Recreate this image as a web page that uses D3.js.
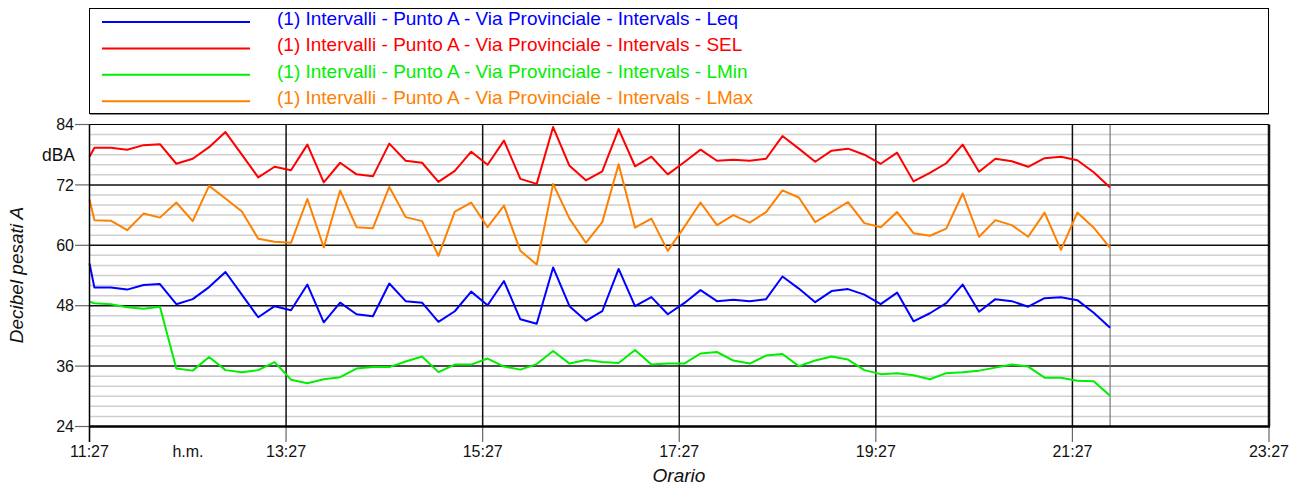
<!DOCTYPE html>
<html>
<head>
<meta charset="utf-8">
<script src="https://cdn.jsdelivr.net/npm/d3@7/dist/d3.min.js"></script>
<style>
  body { margin: 0; background: #fff; }
  svg { display: block; font-family: "Liberation Sans", Arial, sans-serif; }
</style>
</head>
<body>
<svg id="chart" width="1300" height="487"></svg>
<script>
// interval start times (h:m)
const times = [
  "11:27","11:30","11:40","11:50","12:00","12:10","12:20","12:30","12:40","12:50",
  "13:00","13:10","13:20","13:30","13:40","13:50","14:00","14:10","14:20","14:30",
  "14:40","14:50","15:00","15:10","15:20","15:30","15:40","15:50","16:00","16:10",
  "16:20","16:30","16:40","16:50","17:00","17:10","17:20","17:30","17:40","17:50",
  "18:00","18:10","18:20","18:30","18:40","18:50","19:00","19:10","19:20","19:30",
  "19:40","19:50","20:00","20:10","20:20","20:30","20:40","20:50","21:00","21:10",
  "21:20","21:30","21:40","21:50"
];

const leq = [
  56.4,51.6,51.6,51.2,52.1,52.3,48.3,49.3,51.7,54.7,
  50.2,45.7,47.9,47.1,52.2,44.7,48.6,46.3,45.9,52.4,
  48.9,48.6,44.8,46.9,50.8,48.1,52.9,45.3,44.4,55.6,
  47.9,45.0,46.9,55.3,47.9,49.7,46.3,48.5,51.1,48.9,
  49.2,48.9,49.3,53.8,51.4,48.7,50.9,51.3,50.2,48.3,
  50.6,44.9,46.5,48.5,52.2,46.8,49.3,48.9,47.8,49.5,
  49.7,49.1,46.6,43.6
];

const sel = [
  77.6,79.4,79.4,79.0,79.9,80.1,76.2,77.2,79.5,82.5,
  78.0,73.5,75.6,74.9,80.0,72.5,76.4,74.1,73.7,80.2,
  76.8,76.4,72.6,74.8,78.6,76.0,80.8,73.2,72.2,83.5,
  75.8,72.9,74.7,83.1,75.7,77.6,74.1,76.5,79.0,76.8,
  77.0,76.8,77.2,81.7,79.2,76.6,78.8,79.2,78.0,76.2,
  78.4,72.7,74.4,76.3,80.0,74.6,77.2,76.7,75.6,77.3,
  77.6,76.9,74.5,71.5
];

const lmin = [
  48.8,48.5,48.3,47.7,47.4,47.8,35.5,35.1,37.8,35.2,
  34.8,35.2,36.8,33.3,32.6,33.4,33.8,35.5,35.8,35.8,
  36.9,37.9,34.8,36.3,36.3,37.5,35.9,35.3,36.4,39.0,
  36.5,37.2,36.8,36.6,39.2,36.3,36.5,36.5,38.5,38.8,
  37.1,36.5,38.1,38.4,36.0,37.1,37.9,37.3,35.2,34.4,
  34.6,34.2,33.4,34.6,34.8,35.1,35.7,36.3,35.9,33.7,
  33.7,33.1,33.0,30.1
];

const lmax = [
  69.1,65.0,64.9,63.0,66.3,65.5,68.5,64.8,71.8,69.3,
  66.7,61.3,60.7,60.5,69.2,59.6,70.9,63.6,63.4,71.6,
  65.6,64.8,57.9,66.7,68.5,63.6,67.9,58.9,56.2,72.2,
  65.3,60.5,64.6,76.1,63.5,65.3,58.9,63.6,68.5,64.0,
  66.0,64.5,66.6,70.9,69.5,64.6,66.6,68.6,64.4,63.6,
  66.6,62.4,61.9,63.3,70.3,61.7,65.0,64.0,61.7,66.5,
  59.1,66.5,63.5,59.5
];

const seriesNames = [
  "(1) Intervalli - Punto A - Via Provinciale - Intervals - Leq",
  "(1) Intervalli - Punto A - Via Provinciale - Intervals - SEL",
  "(1) Intervalli - Punto A - Via Provinciale - Intervals - LMin",
  "(1) Intervalli - Punto A - Via Provinciale - Intervals - LMax"
];
const seriesColors = ["#0000ff", "#ff0000", "#00ee00", "#ff8000"];

const xTickLabels = ["11:27", "13:27", "15:27", "17:27", "19:27", "21:27", "23:27"];
const yTicks = [24, 36, 48, 60, 72, 84];
const dataEnd = "21:50";

const parseTime = d3.timeParse("%H:%M");
const series = [leq, sel, lmin, lmax].map((vals, i) => ({
  name: seriesNames[i],
  color: seriesColors[i],
  points: vals.map((v, j) => ({ t: parseTime(times[j]), v }))
}));

const svg = d3.select("#chart");
const plot = { left: 89.5, right: 1269, top: 124.5, bottom: 426.5 };

const x = d3.scaleTime()
  .domain([parseTime(xTickLabels[0]), parseTime(xTickLabels[xTickLabels.length - 1])])
  .range([plot.left, plot.right]);
const y = d3.scaleLinear().domain([24, 84]).range([plot.bottom, plot.top]);

// legend box
svg.append("rect").attr("x", 90).attr("y", 9).attr("width", 1179).attr("height", 106)
  .attr("fill", "#888");
svg.append("rect").attr("x", 89.5).attr("y", 8.5).attr("width", 1179).attr("height", 105)
  .attr("fill", "#fff").attr("stroke", "#000").attr("stroke-width", 1);

series.forEach((s, i) => {
  const ly = 22 + i * 26.4;
  svg.append("line").attr("x1", 102).attr("x2", 250).attr("y1", ly).attr("y2", ly)
    .attr("stroke", s.color).attr("stroke-width", 2);
  svg.append("text").attr("x", 277).attr("y", ly + 3)
    .attr("font-size", "19px").attr("fill", s.color).text(s.name);
});

// minor grid
const minor = d3.range(24, 85, 2).filter(v => !yTicks.includes(v));
svg.append("g").selectAll("line").data(minor).join("line")
  .attr("x1", plot.left).attr("x2", plot.right)
  .attr("y1", d => y(d)).attr("y2", d => y(d))
  .attr("stroke", "#cfcfcf").attr("stroke-width", 1.5);

// major horizontal lines + ticks
svg.append("g").selectAll("line").data(yTicks.slice(1, -1)).join("line")
  .attr("x1", plot.left).attr("x2", plot.right)
  .attr("y1", d => y(d)).attr("y2", d => y(d))
  .attr("stroke", "#111").attr("stroke-width", 1.5);
svg.append("g").selectAll("line").data(yTicks).join("line")
  .attr("x1", 75).attr("x2", plot.left)
  .attr("y1", d => y(d)).attr("y2", d => y(d))
  .attr("stroke", "#666").attr("stroke-width", 1.2);
svg.append("g").selectAll("text").data(yTicks).join("text")
  .attr("x", 74).attr("y", d => y(d)).attr("dy", "0.36em")
  .attr("text-anchor", "end").attr("font-size", "16px").attr("fill", "#111")
  .text(d => d);
svg.append("text").attr("x", 75).attr("y", 161).attr("text-anchor", "end")
  .attr("font-size", "17.5px").attr("fill", "#111").text("dBA");

// vertical lines at x ticks
const xTicks = xTickLabels.map(parseTime);
svg.append("g").selectAll("line").data(xTicks).join("line")
  .attr("x1", d => x(d)).attr("x2", d => x(d))
  .attr("y1", plot.bottom).attr("y2", 442)
  .attr("stroke", "#666").attr("stroke-width", 1.2);
svg.append("g").selectAll("line").data(xTicks.slice(1, -1)).join("line")
  .attr("x1", d => x(d)).attr("x2", d => x(d))
  .attr("y1", plot.top).attr("y2", plot.bottom)
  .attr("stroke", "#111").attr("stroke-width", 1.5);
svg.append("line")
  .attr("x1", x(parseTime(dataEnd))).attr("x2", x(parseTime(dataEnd)))
  .attr("y1", plot.top).attr("y2", plot.bottom)
  .attr("stroke", "#777").attr("stroke-width", 1.2);

svg.append("g").selectAll("text").data(xTickLabels).join("text")
  .attr("x", d => x(parseTime(d))).attr("y", 457)
  .attr("text-anchor", "middle").attr("font-size", "16px").attr("fill", "#111")
  .text(d => d);
svg.append("text").attr("x", 188).attr("y", 457).attr("text-anchor", "middle")
  .attr("font-size", "16px").attr("fill", "#111").text("h.m.");

// data lines
const line = d3.line().x(d => x(d.t)).y(d => y(d.v));
svg.append("g").selectAll("path").data(series).join("path")
  .attr("d", d => line(d.points))
  .attr("fill", "none").attr("stroke", d => d.color)
  .attr("stroke-width", 2).attr("stroke-linejoin", "round");

// plot border
svg.append("line").attr("x1", plot.left).attr("x2", plot.right)
  .attr("y1", plot.top).attr("y2", plot.top).attr("stroke", "#000").attr("stroke-width", 1);
svg.append("line").attr("x1", plot.left).attr("x2", plot.right + 1)
  .attr("y1", plot.bottom).attr("y2", plot.bottom).attr("stroke", "#000").attr("stroke-width", 2.5);
svg.append("line").attr("x1", plot.left).attr("x2", plot.left)
  .attr("y1", plot.top).attr("y2", 442).attr("stroke", "#000").attr("stroke-width", 1.5);
svg.append("line").attr("x1", plot.right).attr("x2", plot.right)
  .attr("y1", plot.top).attr("y2", plot.bottom).attr("stroke", "#111").attr("stroke-width", 2.5);

// axis titles
svg.append("text").attr("transform", "translate(23,275) rotate(-90)")
  .attr("text-anchor", "middle").attr("font-size", "19px").attr("font-style", "italic")
  .attr("fill", "#111").text("Decibel pesati A");
svg.append("text").attr("x", 679).attr("y", 482).attr("text-anchor", "middle")
  .attr("font-size", "19px").attr("font-style", "italic").attr("fill", "#111").text("Orario");
</script>
</body>
</html>
